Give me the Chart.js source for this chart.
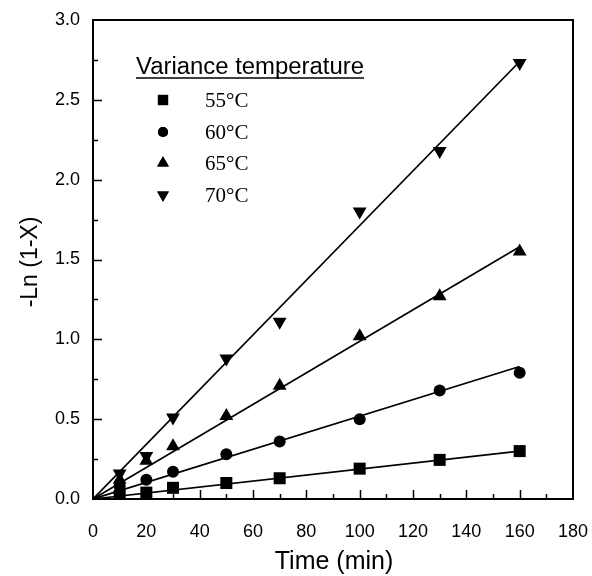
<!DOCTYPE html>
<html>
<head>
<meta charset="utf-8">
<script src="https://cdn.jsdelivr.net/npm/chart.js@4/dist/chart.umd.min.js"></script>
<style>
  html, body { margin: 0; padding: 0; background: #fff; }
  #wrap { width: 592px; height: 576px; }
</style>
</head>
<body>
<div id="wrap"><canvas id="myChart" width="592" height="576"></canvas></div>
<script>
// data
const times = [10, 20, 30, 50, 70, 100, 130, 160];
const t55 = [0.02, 0.04, 0.07, 0.10, 0.13, 0.19, 0.245, 0.30];
const t60 = [0.08, 0.12, 0.17, 0.28, 0.36, 0.50, 0.68, 0.79];
const t65 = [0.12, 0.24, 0.33, 0.52, 0.71, 1.02, 1.27, 1.55];
const t70 = [0.16, 0.27, 0.51, 0.88, 1.11, 1.80, 2.18, 2.73];

// linear fits through origin, start and end values
const fitTimes = [0, 160];
const fit55 = [0, 0.30];
const fit60 = [0, 0.83];
const fit65 = [0, 1.58];
const fit70 = [0, 2.74];

const legendLabels = ['55°C', '60°C', '65°C', '70°C'];
const xTicks = [0, 20, 40, 60, 80, 100, 120, 140, 160, 180];
const yTicks = [0.0, 0.5, 1.0, 1.5, 2.0, 2.5, 3.0];

const pts = (xs, ys) => xs.map((x, i) => ({x: x, y: ys[i]}));

const markers = [
  {pointStyle: 'rect', radius: 8.5, rotation: 0},
  {pointStyle: 'circle', radius: 6, rotation: 0},
  {pointStyle: 'triangle', radius: 8, rotation: 0},
  {pointStyle: 'triangle', radius: 8, rotation: 180}
];

const series = [t55, t60, t65, t70];
const fits = [fit55, fit60, fit65, fit70];

const datasets = [];
fits.forEach((f) => {
  datasets.push({
    data: pts(fitTimes, f),
    showLine: true,
    borderColor: '#000',
    borderWidth: 1.7,
    pointRadius: 0,
    fill: false
  });
});
series.forEach((s, i) => {
  datasets.push({
    data: pts(times, s),
    showLine: false,
    backgroundColor: '#000',
    borderColor: '#000',
    borderWidth: 0,
    pointStyle: markers[i].pointStyle,
    pointRadius: markers[i].radius,
    pointRotation: markers[i].rotation
  });
});

const sans = '"Liberation Sans", Arial, sans-serif';

// frame, inward ticks, axis titles and the legend box
const decor = {
  id: 'decor',
  afterDraw(chart) {
    const ctx = chart.ctx;
    const a = chart.chartArea;
    const xs = chart.scales.x, ys = chart.scales.y;
    ctx.save();
    ctx.strokeStyle = '#000';
    ctx.lineWidth = 2;
    ctx.strokeRect(a.left, a.top, a.right - a.left, a.bottom - a.top);
    ctx.lineWidth = 1.5;
    ctx.beginPath();
    for (let v = 10; v < 180; v += 10) {
      const px = Math.round(xs.getPixelForValue(v)) + 0.5;
      const len = v % 20 === 0 ? 9 : 5;
      ctx.moveTo(px, a.bottom);
      ctx.lineTo(px, a.bottom - len);
    }
    for (let v = 0.25; v < 3; v += 0.25) {
      const py = Math.round(ys.getPixelForValue(v)) + 0.5;
      const len = Math.abs(v * 2 - Math.round(v * 2)) < 1e-6 ? 9 : 5;
      ctx.moveTo(a.left, py);
      ctx.lineTo(a.left + len, py);
    }
    ctx.stroke();

    // axis titles
    ctx.fillStyle = '#000';
    ctx.textAlign = 'center';
    ctx.textBaseline = 'middle';
    ctx.font = '25px ' + sans;
    ctx.fillText('Time (min)', 334, 562);
    ctx.save();
    ctx.translate(31, 262);
    ctx.rotate(-Math.PI / 2);
    ctx.font = '23px ' + sans;
    ctx.fillText('-Ln (1-X)', 0, 0);
    ctx.restore();

    // legend
    ctx.font = '23px ' + sans;
    ctx.textBaseline = 'alphabetic';
    ctx.textAlign = 'left';
    const title = 'Variance temperature';
    const tx = 136, ty = 74, tw = 228;
    const nat = ctx.measureText(title).width;
    ctx.save();
    ctx.translate(tx, ty);
    ctx.scale(tw / nat, 1);
    ctx.fillText(title, 0, 0);
    ctx.restore();
    ctx.lineWidth = 1.5;
    ctx.beginPath();
    ctx.moveTo(tx, ty + 4);
    ctx.lineTo(tx + tw, ty + 4);
    ctx.stroke();

    ctx.font = '21px "Liberation Serif", "Times New Roman", serif';
    ctx.textBaseline = 'middle';
    const rows = [100, 132, 163, 195];
    legendLabels.forEach((lab, i) => {
      const m = markers[i];
      Chart.helpers.drawPoint(ctx, {
        pointStyle: m.pointStyle,
        radius: m.radius * 0.85,
        rotation: m.rotation,
        borderWidth: 0
      }, 163, rows[i]);
      ctx.fill();
      ctx.fillText(lab, 205, rows[i] + 1);
    });
    ctx.restore();
  }
};

const tickFont = {family: sans, size: 18};

const config = {
  type: 'scatter',
  data: {datasets},
  options: {
    responsive: false,
    animation: false,
    layout: {padding: {top: 20, right: 19, left: 0, bottom: 0}},
    plugins: {legend: {display: false}, tooltip: {enabled: false}},
    scales: {
      x: {
        type: 'linear',
        min: 0, max: 180,
        grid: {display: false, drawTicks: false},
        border: {display: false},
        afterBuildTicks: (s) => { s.ticks = xTicks.map(v => ({value: v})); },
        afterFit: (s) => { s.height = 77; s.paddingLeft = 0; s.paddingRight = 0; },
        ticks: {color: '#000', font: tickFont, padding: 22, maxRotation: 0,
          callback: (v) => String(v)},
        title: {display: false}
      },
      y: {
        type: 'linear',
        min: 0, max: 3,
        grid: {display: false, drawTicks: false},
        border: {display: false},
        afterBuildTicks: (s) => { s.ticks = yTicks.map(v => ({value: v})); },
        afterFit: (s) => { s.width = 93; s.paddingTop = 0; s.paddingBottom = 0; },
        ticks: {color: '#000', font: tickFont, padding: 13,
          callback: (v) => Number(v).toFixed(1)},
        title: {display: false}
      }
    }
  },
  plugins: [decor]
};

const myChart = new Chart(document.getElementById('myChart'), config);
</script>
</body>
</html>
